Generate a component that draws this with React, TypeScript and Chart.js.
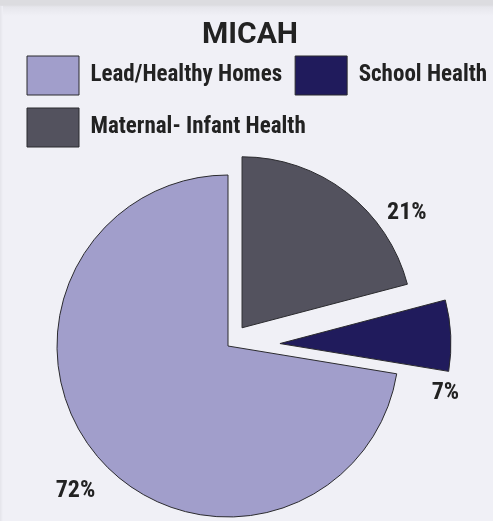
import React, { useEffect, useRef } from 'react';
import { Chart, registerables } from 'chart.js';
Chart.register(...registerables);

const categories = ['Maternal- Infant Health', 'School Health', 'Lead/Healthy Homes'];
const values = [20.9, 6.7, 72.4];
const percentLabels = ['21%', '7%', '72%'];
const colors = ['#53525e', '#201b5c', '#a19ecb'];
const explodeDistances = [23, 52, 0];

const CONDENSED = "'Roboto Condensed', Roboto, sans-serif";

// nudges boxes after Chart.js layout: chart area, legend and title
const areaTweak = {
  id: 'areaTweak',
  afterLayout(chart: any, _a: any, opts: any) {
    const a = chart.chartArea;
    a.top += opts.top;
    a.right -= opts.right;
    a.width = a.right - a.left;
    a.height = a.bottom - a.top;
    if (chart.legend) {
      chart.legend.left += opts.legendShift;
      chart.legend.right += opts.legendShift;
    }
    if (chart.titleBlock) {
      chart.titleBlock.left += opts.titleShift;
      chart.titleBlock.right += opts.titleShift;
    }
  },
};

const explode = {
  id: 'explode',
  afterDatasetsUpdate(chart: any, _a: any, opts: any) {
    const meta = chart.getDatasetMeta(0);
    meta.data.forEach((arc: any, i: number) => {
      const d = opts.distances[i] || 0;
      const mid = (arc.startAngle + arc.endAngle) / 2;
      arc.x += Math.cos(mid) * d;
      arc.y += Math.sin(mid) * d;
    });
  },
};

const pctLabels = {
  id: 'pctLabels',
  afterDatasetsDraw(chart: any, _a: any, opts: any) {
    const ctx = chart.ctx;
    const meta = chart.getDatasetMeta(0);
    ctx.save();
    ctx.font = opts.font;
    ctx.fillStyle = opts.color;
    ctx.textAlign = 'center';
    ctx.textBaseline = 'middle';
    meta.data.forEach((arc: any, i: number) => {
      const ang = (arc.startAngle + arc.endAngle) / 2 + (opts.angleShift[i] * Math.PI) / 180;
      const r = arc.outerRadius * opts.radiusFactor[i];
      ctx.fillText(percentLabels[i], arc.x + Math.cos(ang) * r, arc.y + Math.sin(ang) * r);
    });
    ctx.restore();
  },
};

export default function App() {
  const ref = useRef<HTMLCanvasElement>(null);
  useEffect(() => {
    document.body.style.margin = '0';
    const chart = new Chart(ref.current!, {
      type: 'pie',
      data: {
        labels: categories,
        datasets: [{
          data: values,
          backgroundColor: colors,
          borderColor: '#2a2a2e',
          borderWidth: 1,
          radius: 171,
        }],
      },
      plugins: [areaTweak, explode, pctLabels],
      options: {
        animation: false,
        responsive: false,
        maintainAspectRatio: false,
        layout: { padding: 0 },
        plugins: {
          title: {
            display: true,
            text: 'MICAH',
            color: '#222222',
            font: { family: 'Roboto, sans-serif', size: 30, weight: 'bold', lineHeight: 0.5 },
            padding: { top: 28, bottom: 0 },
          },
          legend: {
            display: true,
            position: 'top',
            align: 'start',
            reverse: true,
            labels: {
              boxWidth: 52,
              boxHeight: 39,
              padding: 13,
              color: '#222222',
              font: { family: CONDENSED, size: 23, weight: 'bold' },
            },
          },
          tooltip: { enabled: false },
          areaTweak: { top: 14, right: 37, legendShift: 14, titleShift: 3.5 },
          explode: { distances: explodeDistances },
          pctLabels: {
            font: `bold 24px ${CONDENSED}`,
            color: '#222222',
            angleShift: [17.5, 19.4, -3.2],
            radiusFactor: [1.175, 1.01, 1.23],
          },
        } as any,
      },
    });
    return () => chart.destroy();
  }, []);
  return (
    <div style={{ position: 'relative', width: 493, height: 521, overflow: 'hidden', background: 'linear-gradient(to bottom, #dcdce0 0px, #dcdce0 5px, #e6e6ec 7px, #f0f0f6 16px)' }}>
      <div style={{ position: 'absolute', left: 0, top: 6, width: 3, bottom: 0, background: 'linear-gradient(to right, #e4e4ea, #f0f0f6)' }} />
      <canvas ref={ref} width={493} height={521} style={{ position: 'absolute', left: 0, top: 0 }} />
    </div>
  );
}
